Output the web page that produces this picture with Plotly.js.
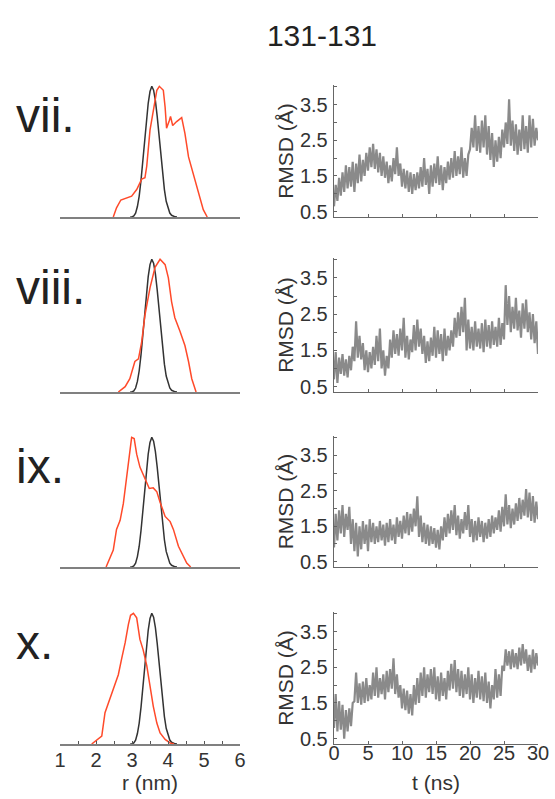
<!DOCTYPE html>
<html>
<head>
<meta charset="utf-8">
<script src="https://cdn.plot.ly/plotly-3.0.1.min.js"></script>
<style>html,body{margin:0;padding:0;background:#fff;}#chart{width:555px;height:799px;}</style>
</head>
<body>
<div id="chart"></div>
<script>
// ---------------- data ----------------
const chartTitle = '131-131';
const panelLabels = ['vii.', 'viii.', 'ix.', 'x.'];

// reference (black) distance distribution, r in nm, normalised P(r)
const refR = [2.95,3.0,3.05,3.1,3.15,3.2,3.25,3.3,3.35,3.4,3.45,3.5,3.55,3.6,3.65,3.7,3.75,3.8,3.85,3.9,3.95,4.0,4.05,4.1,4.15,4.2,4.25];
const refP = [0,0,0.008,0.03,0.08,0.16,0.28,0.43,0.59,0.74,0.87,0.96,1.0,0.97,0.89,0.77,0.62,0.47,0.33,0.21,0.12,0.065,0.03,0.013,0.005,0.001,0];

// simulated (red) distance distributions
const rVii = [2.48,2.57,2.69,2.85,2.99,3.13,3.27,3.36,3.41,3.50,3.59,3.69,3.76,3.87,3.92,3.96,4.04,4.07,4.13,4.24,4.38,4.47,4.57,4.70,4.84,4.98,5.09];
const pVii = [0,0.07,0.13,0.145,0.16,0.21,0.29,0.30,0.39,0.665,0.82,0.97,1,0.97,0.84,0.68,0.74,0.77,0.70,0.73,0.76,0.64,0.46,0.335,0.18,0.056,0];
const rViii = [2.62,2.81,2.94,3.08,3.18,3.27,3.36,3.50,3.64,3.78,3.92,4.01,4.10,4.19,4.33,4.47,4.57,4.66,4.78];
const pViii = [0,0.04,0.10,0.23,0.25,0.38,0.58,0.785,0.94,1,0.96,0.86,0.68,0.56,0.46,0.35,0.23,0.10,0.0];
const rIx = [2.28,2.39,2.48,2.57,2.67,2.76,2.85,2.93,2.99,3.06,3.13,3.22,3.31,3.41,3.48,3.59,3.69,3.78,3.92,4.06,4.15,4.29,4.43,4.52,4.63];
const pIx = [0,0.07,0.13,0.29,0.36,0.49,0.69,0.87,1,0.99,0.87,0.77,0.71,0.64,0.605,0.61,0.58,0.50,0.39,0.35,0.29,0.16,0.08,0.03,0];
const rX = [1.88,2.05,2.16,2.25,2.34,2.44,2.53,2.62,2.71,2.81,2.90,2.96,3.04,3.13,3.22,3.31,3.41,3.50,3.59,3.69,3.78,3.92,4.06,4.17];
const pX = [0,0.04,0.06,0.24,0.315,0.39,0.47,0.53,0.65,0.775,0.915,0.985,1,0.965,0.80,0.72,0.60,0.44,0.29,0.16,0.085,0.035,0.008,0];

// RMSD traces (Å), sampled every 0.25 ns from 0 to 30 ns
const tEndNs = 30;
const rmsdVii = [
 0.65,1.25,0.8,1.45, 0.95,1.6,1.05,1.8, 1.15,1.75,1.2,1.9, 1.05,1.85,1.3,2.1, 1.35,1.95,1.5,2.15,
 1.65,2.3,1.75,2.4, 1.7,2.25,1.6,2.15, 1.5,2.05,1.45,1.9, 1.3,1.8,1.35,2.0, 1.55,2.3,1.5,1.85,
 1.2,1.7,1.15,1.65, 1.05,1.6,1.0,1.55, 1.1,1.6,1.15,1.75, 1.2,2.0,1.25,1.7, 1.0,1.8,1.2,1.85,
 1.3,2.05,1.25,1.8, 1.1,1.75,1.3,1.9, 1.4,2.0,1.45,2.2, 1.5,2.05,1.55,2.3, 1.45,2.0,1.5,2.1,
 2.25,2.85,2.3,3.2, 2.2,2.9,2.15,3.05, 2.3,3.2,2.1,2.9, 1.95,2.7,1.75,2.5, 1.9,2.6,2.0,2.8,
 2.3,3.0,2.4,3.65, 2.35,3.05,2.2,2.95, 2.1,2.8,2.2,3.2, 2.25,2.9,2.15,3.2, 2.3,3.1,2.35,2.85, 2.5];
const rmsdViii = [
 0.7,1.45,0.6,1.3, 0.85,1.4,0.8,1.25, 0.75,1.35,0.95,1.6, 1.2,2.3,1.3,1.9, 1.25,1.7,0.95,1.5,
 0.9,1.45,1.0,1.6, 1.1,1.9,1.2,2.1, 1.0,1.5,0.8,1.35, 1.0,1.8,1.3,2.05, 1.4,1.95,1.35,2.1,
 1.5,2.4,1.3,1.9, 1.25,1.8,1.45,2.2, 1.5,2.35,1.6,2.1, 1.4,1.9,1.15,1.75, 1.2,1.85,1.35,2.15,
 1.3,2.05,1.4,1.95, 1.2,2.1,1.35,1.9, 1.5,2.05,1.6,2.4, 1.85,2.55,1.9,2.7, 2.0,2.95,1.5,2.35,
 1.55,2.15,1.5,2.3, 1.6,2.1,1.55,2.25, 1.45,2.35,1.6,2.2, 1.55,2.3,1.65,2.15, 1.6,2.4,1.65,2.25,
 1.8,3.3,2.2,3.0, 2.0,2.7,2.1,2.95, 2.05,2.6,1.85,2.8, 2.1,2.9,2.0,2.55, 1.8,2.5,1.7,2.3, 1.4];
const rmsdIx = [
 0.9,1.85,1.1,1.95, 1.3,2.1,1.2,1.85, 1.4,2.05,1.0,1.7, 0.8,1.6,0.65,1.5, 0.85,1.65,1.0,1.55,
 0.8,1.7,1.05,1.6, 1.0,1.5,1.05,1.65, 1.1,1.55,0.95,1.6, 1.05,1.7,1.1,1.55, 1.0,1.75,1.2,1.65,
 1.15,1.8,1.3,1.9, 1.25,1.85,1.35,2.0, 1.5,2.35,1.2,1.8, 1.05,1.6,1.0,1.55, 0.95,1.5,1.0,1.45,
 0.9,1.4,0.85,1.5, 1.1,1.75,1.2,1.85, 1.3,1.95,1.4,2.1, 1.25,1.8,1.15,1.7, 1.3,1.9,1.4,2.1,
 1.2,1.7,1.05,1.65, 1.1,1.75,1.2,1.65, 1.05,1.6,1.15,1.7, 1.2,1.8,1.3,1.75, 1.4,1.95,1.35,2.05,
 1.5,2.4,1.55,2.1, 1.45,2.0,1.55,2.15, 1.65,2.3,1.7,2.25, 1.8,2.55,1.75,2.45, 1.65,2.35,1.6,2.2, 1.7];
const rmsdX = [
 0.8,1.75,0.7,1.55, 0.75,1.45,0.5,1.3, 0.7,1.35,0.85,1.5, 1.55,2.35,1.5,2.05, 1.45,2.1,1.5,2.2,
 1.55,2.0,1.6,2.35, 1.7,2.5,1.65,2.2, 1.75,2.3,1.6,2.4, 1.8,2.45,1.9,2.75, 1.75,2.3,1.65,2.0,
 1.35,1.9,1.3,1.85, 1.2,1.75,1.15,2.0, 1.45,2.2,1.5,2.35, 1.7,2.5,1.65,2.3, 1.8,2.45,1.75,2.5,
 1.6,2.25,1.55,2.35, 1.7,2.2,1.6,2.4, 1.85,2.6,1.9,2.7, 1.8,2.45,1.7,2.4, 1.65,2.3,1.75,2.5,
 1.6,2.3,1.5,2.2, 1.65,2.4,1.6,2.25, 1.55,2.35,1.5,2.1, 1.35,2.0,1.6,2.45, 1.65,2.3,1.7,2.55,
 2.4,3.0,2.55,2.95, 2.45,3.0,2.5,2.9, 2.45,3.05,2.55,3.15, 2.6,3.0,2.4,2.85, 2.35,3.0,2.45,2.9, 2.55];

const rTickVals = [1, 2, 3, 4, 5, 6];
const tTickVals = [0, 5, 10, 15, 20, 25, 30];
const rmsdTickVals = [0.5, 1.5, 2.5, 3.5];

const distR = [rVii, rViii, rIx, rX];
const distP = [pVii, pViii, pIx, pX];
const rmsdSeries = [rmsdVii, rmsdViii, rmsdIx, rmsdX];

// ---------------- layout geometry (pixels) ----------------
const W = 555, H = 799;
const panelTop = [85, 258, 436, 612];
const panelBot = [217, 392, 567, 744];
const leftPx = [60, 240];
const rightPx = [334, 538];
const fx = p => p / W;
const fy = p => 1 - p / H;
const FONT = 'Liberation Sans, Arial, Helvetica, sans-serif';
const TICK_SIZE = 20, TITLE_SIZE = 21;

const traces = [];
const layout = {
  width: W, height: H,
  margin: {l: 0, r: 0, t: 0, b: 0},
  paper_bgcolor: '#ffffff', plot_bgcolor: 'rgba(0,0,0,0)',
  showlegend: false,
  font: {family: FONT, color: '#2a2a2a'},
  title: {text: chartTitle, x: fx(322), y: fy(35), xanchor: 'center', yanchor: 'middle',
          xref: 'paper', yref: 'paper', font: {family: FONT, size: 30, color: '#222'}},
  annotations: []
};

for (let i = 0; i < 4; i++) {
  const last = i === 3;
  const a = 2 * i + 1, b = 2 * i + 2;
  const yDom = [fy(panelBot[i]), fy(panelTop[i])];
  const tsTime = rmsdSeries[i].map((_, k) => k * tEndNs / (rmsdSeries[i].length - 1));

  traces.push({x: refR, y: refP, xaxis: 'x' + a, yaxis: 'y' + a, type: 'scatter', mode: 'lines',
               line: {color: '#333333', width: 1.5}, hoverinfo: 'skip'});
  traces.push({x: distR[i], y: distP[i], xaxis: 'x' + a, yaxis: 'y' + a, type: 'scatter', mode: 'lines',
               line: {color: '#ff4a2a', width: 1.5}, hoverinfo: 'skip'});
  traces.push({x: tsTime, y: rmsdSeries[i], xaxis: 'x' + b, yaxis: 'y' + b, type: 'scatter', mode: 'lines',
               line: {color: '#8a8a8a', width: 2.2}, hoverinfo: 'skip'});

  layout['xaxis' + a] = {
    domain: [fx(leftPx[0]), fx(leftPx[1])], range: [1, 6], anchor: 'y' + a,
    showline: true, linecolor: '#808080', linewidth: 2, showgrid: false, zeroline: false,
    tickmode: 'array', tickvals: last ? rTickVals : [], ticks: last ? 'inside' : '',
    ticklen: 3, tickcolor: '#555', tickwidth: 1, showticklabels: last,
    ticklabelstandoff: -3,
    tickfont: {family: FONT, size: TICK_SIZE, color: '#333'},
    minor: last ? {tickmode: 'linear', tick0: 1, dtick: 0.5, ticks: 'inside', ticklen: 3, tickcolor: '#555', showgrid: false} : undefined,
    title: last ? {text: 'r (nm)', font: {family: FONT, size: TITLE_SIZE, color: '#333'}, standoff: 0} : {text: ''}
  };
  layout['yaxis' + a] = {
    domain: yDom, range: [0, 1.01], anchor: 'x' + a, visible: false, showgrid: false, zeroline: false
  };
  layout['xaxis' + b] = {
    domain: [fx(rightPx[0]), fx(rightPx[1])], range: [0, 30], anchor: 'y' + b,
    showline: true, linecolor: '#666', linewidth: 1.3, showgrid: false, zeroline: false,
    tickmode: 'array', tickvals: tTickVals, ticks: 'inside', ticklen: 3, tickcolor: '#666',
    showticklabels: last, ticklabelstandoff: -9,
    tickfont: {family: FONT, size: TICK_SIZE, color: '#333'},
    title: last ? {text: 't (ns)', font: {family: FONT, size: TITLE_SIZE, color: '#333'}, standoff: 12} : {text: ''}
  };
  layout['yaxis' + b] = {
    domain: yDom, range: [0.35, 4.05], anchor: 'x' + b,
    showline: true, linecolor: '#666', linewidth: 1.3, showgrid: false, zeroline: false,
    tickmode: 'array', tickvals: rmsdTickVals, ticks: 'inside', ticklen: 3, tickcolor: '#666',
    minor: {tickmode: 'linear', tick0: 0.5, dtick: 0.5, ticks: 'inside', ticklen: 3, tickcolor: '#666', showgrid: false},
    tickfont: {family: FONT, size: TICK_SIZE, color: '#333'}, ticklabelstandoff: 1,
    title: {text: 'RMSD (Å)', font: {family: FONT, size: TITLE_SIZE, color: '#333'}, standoff: 0}
  };
  layout.annotations.push({
    text: panelLabels[i], xref: 'paper', yref: 'paper', x: fx(14), y: fy(panelTop[i] + 30),
    xanchor: 'left', yanchor: 'middle', showarrow: false,
    font: {family: FONT, size: 48, color: '#222'}
  });
}

Plotly.newPlot('chart', traces, layout, {staticPlot: true, displayModeBar: false});
</script>
</body>
</html>
